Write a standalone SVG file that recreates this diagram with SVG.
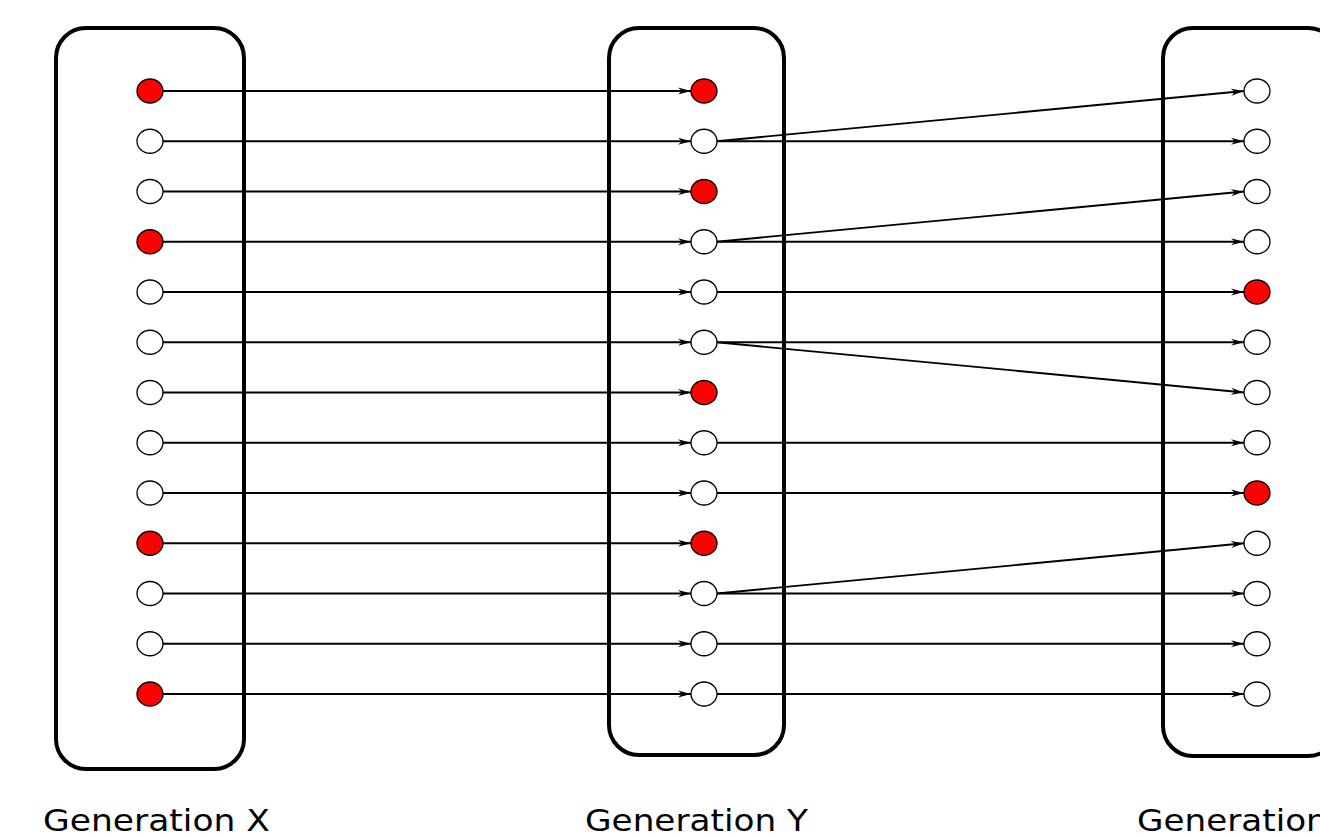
<svg xmlns="http://www.w3.org/2000/svg" width="1320" height="838" viewBox="0 0 1320 838">
<style>
.box{fill:none;stroke:#000;stroke-width:4}
.n{stroke:#000;stroke-width:1.3}
.w{fill:#fff}
.r{fill:#f00}
.e{stroke:#000;stroke-width:1.8;fill:none;marker-end:url(#ah)}
.lbl{font-family:"DejaVu Sans",sans-serif;font-size:31px;fill:#000}
</style>
<defs>
<marker id="ah" markerUnits="userSpaceOnUse" markerWidth="14" markerHeight="8" refX="13" refY="4" orient="auto">
<path d="M0,0.5 L13,4 L0,7.5 L4,4 z" fill="#000"/>
</marker>
</defs>
<rect width="1320" height="838" fill="#fff"/>
<g id="genX"><rect class="box" x="56" y="28" width="188" height="741" rx="30"/></g>
<g id="genY"><rect class="box" x="609" y="28" width="175" height="727" rx="30"/></g>
<g id="genZ"><rect class="box" x="1163" y="28" width="175" height="728" rx="30"/></g>
<g id="connectors">
<line class="e" x1="163" y1="91" x2="691" y2="91"/>
<line class="e" x1="163" y1="141.25" x2="691" y2="141.25"/>
<line class="e" x1="163" y1="191.5" x2="691" y2="191.5"/>
<line class="e" x1="163" y1="241.75" x2="691" y2="241.75"/>
<line class="e" x1="163" y1="292" x2="691" y2="292"/>
<line class="e" x1="163" y1="342.25" x2="691" y2="342.25"/>
<line class="e" x1="163" y1="392.5" x2="691" y2="392.5"/>
<line class="e" x1="163" y1="442.75" x2="691" y2="442.75"/>
<line class="e" x1="163" y1="493" x2="691" y2="493"/>
<line class="e" x1="163" y1="543.25" x2="691" y2="543.25"/>
<line class="e" x1="163" y1="593.5" x2="691" y2="593.5"/>
<line class="e" x1="163" y1="643.75" x2="691" y2="643.75"/>
<line class="e" x1="163" y1="694" x2="691" y2="694"/>
<line class="e" x1="717" y1="141.25" x2="1244" y2="91"/>
<line class="e" x1="717" y1="141.25" x2="1244" y2="141.25"/>
<line class="e" x1="717" y1="241.75" x2="1244" y2="191.5"/>
<line class="e" x1="717" y1="241.75" x2="1244" y2="241.75"/>
<line class="e" x1="717" y1="292" x2="1244" y2="292"/>
<line class="e" x1="717" y1="342.25" x2="1244" y2="342.25"/>
<line class="e" x1="717" y1="342.25" x2="1244" y2="392.5"/>
<line class="e" x1="717" y1="442.75" x2="1244" y2="442.75"/>
<line class="e" x1="717" y1="493" x2="1244" y2="493"/>
<line class="e" x1="717" y1="593.5" x2="1244" y2="543.25"/>
<line class="e" x1="717" y1="593.5" x2="1244" y2="593.5"/>
<line class="e" x1="717" y1="643.75" x2="1244" y2="643.75"/>
<line class="e" x1="717" y1="694" x2="1244" y2="694"/>
</g>
<g id="nodesX">
<ellipse class="n r" cx="150" cy="91" rx="13" ry="12"/>
<ellipse class="n w" cx="150" cy="141.25" rx="13" ry="12"/>
<ellipse class="n w" cx="150" cy="191.5" rx="13" ry="12"/>
<ellipse class="n r" cx="150" cy="241.75" rx="13" ry="12"/>
<ellipse class="n w" cx="150" cy="292" rx="13" ry="12"/>
<ellipse class="n w" cx="150" cy="342.25" rx="13" ry="12"/>
<ellipse class="n w" cx="150" cy="392.5" rx="13" ry="12"/>
<ellipse class="n w" cx="150" cy="442.75" rx="13" ry="12"/>
<ellipse class="n w" cx="150" cy="493" rx="13" ry="12"/>
<ellipse class="n r" cx="150" cy="543.25" rx="13" ry="12"/>
<ellipse class="n w" cx="150" cy="593.5" rx="13" ry="12"/>
<ellipse class="n w" cx="150" cy="643.75" rx="13" ry="12"/>
<ellipse class="n r" cx="150" cy="694" rx="13" ry="12"/>
</g>
<g id="nodesY">
<ellipse class="n r" cx="704" cy="91" rx="13" ry="12"/>
<ellipse class="n w" cx="704" cy="141.25" rx="13" ry="12"/>
<ellipse class="n r" cx="704" cy="191.5" rx="13" ry="12"/>
<ellipse class="n w" cx="704" cy="241.75" rx="13" ry="12"/>
<ellipse class="n w" cx="704" cy="292" rx="13" ry="12"/>
<ellipse class="n w" cx="704" cy="342.25" rx="13" ry="12"/>
<ellipse class="n r" cx="704" cy="392.5" rx="13" ry="12"/>
<ellipse class="n w" cx="704" cy="442.75" rx="13" ry="12"/>
<ellipse class="n w" cx="704" cy="493" rx="13" ry="12"/>
<ellipse class="n r" cx="704" cy="543.25" rx="13" ry="12"/>
<ellipse class="n w" cx="704" cy="593.5" rx="13" ry="12"/>
<ellipse class="n w" cx="704" cy="643.75" rx="13" ry="12"/>
<ellipse class="n w" cx="704" cy="694" rx="13" ry="12"/>
</g>
<g id="nodesZ">
<ellipse class="n w" cx="1257" cy="91" rx="13" ry="12"/>
<ellipse class="n w" cx="1257" cy="141.25" rx="13" ry="12"/>
<ellipse class="n w" cx="1257" cy="191.5" rx="13" ry="12"/>
<ellipse class="n w" cx="1257" cy="241.75" rx="13" ry="12"/>
<ellipse class="n r" cx="1257" cy="292" rx="13" ry="12"/>
<ellipse class="n w" cx="1257" cy="342.25" rx="13" ry="12"/>
<ellipse class="n w" cx="1257" cy="392.5" rx="13" ry="12"/>
<ellipse class="n w" cx="1257" cy="442.75" rx="13" ry="12"/>
<ellipse class="n r" cx="1257" cy="493" rx="13" ry="12"/>
<ellipse class="n w" cx="1257" cy="543.25" rx="13" ry="12"/>
<ellipse class="n w" cx="1257" cy="593.5" rx="13" ry="12"/>
<ellipse class="n w" cx="1257" cy="643.75" rx="13" ry="12"/>
<ellipse class="n w" cx="1257" cy="694" rx="13" ry="12"/>
</g>
<g id="labels">
<text class="lbl" x="43" y="831" textLength="227" lengthAdjust="spacingAndGlyphs">Generation X</text>
<text class="lbl" x="585" y="831" textLength="223" lengthAdjust="spacingAndGlyphs">Generation Y</text>
<text class="lbl" x="1137" y="831" textLength="225" lengthAdjust="spacingAndGlyphs">Generation Z</text>
</g>
</svg>
